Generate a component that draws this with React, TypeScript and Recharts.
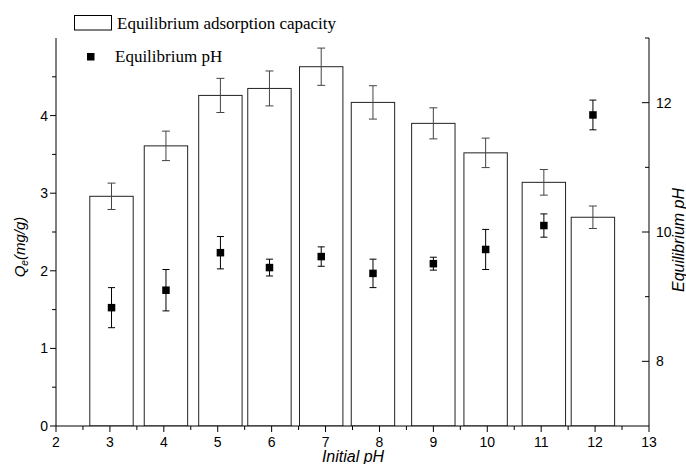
import React from "react"
import { ComposedChart, Bar, Scatter, XAxis, YAxis, ErrorBar } from "recharts"

// measured initial pH of each run
const initialPH = [3.03, 4.04, 5.05, 5.96, 6.92, 7.88, 9.0, 9.97, 11.05, 11.96]
// equilibrium adsorption capacity Qe (mg/g) and its error
const qe = [2.96, 3.61, 4.26, 4.35, 4.63, 4.17, 3.9, 3.52, 3.14, 2.69]
const qeErr = [0.17, 0.19, 0.22, 0.225, 0.24, 0.215, 0.2, 0.19, 0.165, 0.145]
// equilibrium pH and its error
const eqPH = [8.83, 9.1, 9.68, 9.45, 9.62, 9.36, 9.51, 9.73, 10.1, 11.81]
const eqErr = [0.31, 0.32, 0.25, 0.13, 0.15, 0.22, 0.1, 0.31, 0.18, 0.23]

const xTicks = [2, 2.5, 3, 3.5, 4, 4.5, 5, 5.5, 6, 6.5, 7, 7.5, 8, 8.5, 9, 9.5, 10, 10.5, 11, 11.5, 12, 12.5, 13]
const leftTicks = [0, 0.5, 1, 1.5, 2, 2.5, 3, 3.5, 4, 4.5]
const rightTicks = [8, 9, 10, 11, 12, 13]

const data = initialPH.map((x, i) => ({
  x,
  qe: qe[i],
  qeErr: qeErr[i],
  eq: eqPH[i],
  eqErr: eqErr[i],
}))

const sans = "'Liberation Sans', Arial, sans-serif"
const serif = "'Liberation Serif', 'Times New Roman', serif"

const BottomTick = ({ x, y, payload }: any) => {
  const v = payload.value
  const major = Number.isInteger(v)
  return (
    <g>
      <line x1={x} x2={x} y1={y} y2={y + (major ? 6 : 4)} stroke="#000" />
      {major && (
        <text x={x} y={y + 21} textAnchor="middle" fontFamily={sans} fontSize={14} fill="#000">
          {v}
        </text>
      )}
    </g>
  )
}

const LeftTick = ({ x, y, payload }: any) => {
  const v = payload.value
  const major = Number.isInteger(v)
  return (
    <g>
      <line x1={x} x2={x - (major ? 6 : 4)} y1={y} y2={y} stroke="#000" />
      {major && (
        <text x={x - 8} y={y + 5} textAnchor="end" fontFamily={sans} fontSize={14} fill="#000">
          {v}
        </text>
      )}
    </g>
  )
}

const RightTick = ({ x, y, payload }: any) => {
  const v = payload.value
  const major = v % 2 === 0
  return (
    <g>
      <line x1={x} x2={x - (major ? 7 : 4)} y1={y} y2={y} stroke="#000" />
      {major && (
        <text x={x + 7} y={y + 5} textAnchor="start" fontFamily={sans} fontSize={14} fill="#000">
          {v}
        </text>
      )}
    </g>
  )
}

const OpenBar = (props: any) => {
  const { x, y, width, height } = props
  const cx = x + width / 2
  const w = 43.4
  return <rect x={cx - w / 2} y={y} width={w} height={height} fill="#fff" stroke="#222" strokeWidth={1} />
}

const Square = (props: any) => {
  const { cx, cy } = props
  const s = 7.5
  return <rect x={cx - s / 2} y={cy - s / 2} width={s} height={s} fill="#000" />
}

export default function App() {
  return (
    <div style={{ width: 686, height: 464, background: "#fff" }}>
      <style>{`body{margin:0}`}</style>
      <ComposedChart width={686} height={464} data={data} margin={{ top: 38, right: 0, bottom: 0, left: 0 }}>
        <XAxis
          dataKey="x"
          type="number"
          domain={[2, 13]}
          ticks={xTicks}
          interval={0}
          tickSize={0}
          tickMargin={0}
          tickLine={false}
          axisLine={{ stroke: "#000" }}
          tick={<BottomTick />}
          height={38}
        />
        <YAxis
          yAxisId="left"
          orientation="left"
          domain={[0, 5]}
          ticks={leftTicks}
          interval={0}
          tickSize={0}
          tickMargin={0}
          tickLine={false}
          axisLine={{ stroke: "#000" }}
          tick={<LeftTick />}
          width={56}
          allowDataOverflow
        />
        <YAxis
          yAxisId="right"
          orientation="right"
          domain={[7, 13]}
          ticks={rightTicks}
          interval={0}
          tickSize={0}
          tickMargin={0}
          tickLine={false}
          axisLine={{ stroke: "#000" }}
          tick={<RightTick />}
          width={37}
          allowDataOverflow
        />
        <Bar yAxisId="left" dataKey="qe" barSize={43} shape={<OpenBar />} isAnimationActive={false}>
          <ErrorBar dataKey="qeErr" direction="y" width={4} stroke="#444" strokeWidth={1} />
        </Bar>
        <Scatter yAxisId="right" dataKey="eq" shape={<Square />} isAnimationActive={false}>
          <ErrorBar dataKey="eqErr" direction="y" width={3.5} stroke="#000" strokeWidth={1} />
        </Scatter>

        {/* axis titles */}
        <text x={353} y={462} textAnchor="middle" fontFamily={sans} fontSize={16} fontStyle="italic" fill="#000">
          Initial pH
        </text>
        <text
          x={25}
          y={247}
          transform="rotate(-90 25 247)"
          textAnchor="middle"
          fontFamily={sans}
          fontSize={15}
          fontStyle="italic"
          fill="#000"
        >
          <tspan>Q</tspan>
          <tspan fontSize={10} dy={3}>e</tspan>
          <tspan dy={-3}>(mg/g)</tspan>
        </text>
        <text
          x={684}
          y={240}
          transform="rotate(-90 684 240)"
          textAnchor="middle"
          fontFamily={sans}
          fontSize={16}
          fontStyle="italic"
          fill="#000"
        >
          Equilibrium pH
        </text>

        {/* legend */}
        <rect x={74.5} y={15.5} width={37} height={14.5} fill="#fff" stroke="#000" strokeWidth={1} />
        <text x={117} y={28.5} fontFamily={serif} fontSize={17} fill="#000">
          Equilibrium adsorption capacity
        </text>
        <rect x={87} y={53} width={7.5} height={7.5} fill="#000" />
        <text x={115} y={61.5} fontFamily={serif} fontSize={17} fill="#000">
          Equilibrium pH
        </text>
      </ComposedChart>
    </div>
  )
}
